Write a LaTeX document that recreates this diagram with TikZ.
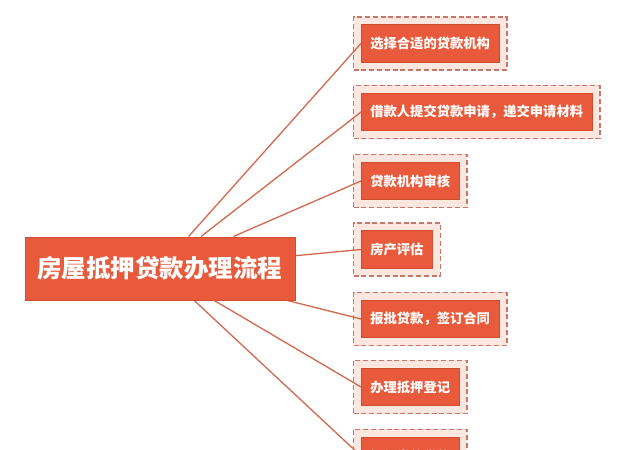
\documentclass[tikz,border=0pt]{standalone}
\usepackage{fontspec}
\newfontfamily\cjk{Noto Sans CJK SC}
\usetikzlibrary{fit,backgrounds}
\definecolor{boxred}{HTML}{E85A3B}
\definecolor{boxedge}{HTML}{D04E30}
\definecolor{halo}{HTML}{FCE6E0}
\definecolor{haloedge}{HTML}{C8766A}
\definecolor{linkc}{HTML}{D2684E}
\tikzset{
  mainbox/.style={fill=boxred, draw=boxedge, line width=1pt, text=white,
    font=\cjk\bfseries\fontsize{24.5}{28}\selectfont,
    minimum width=270pt, minimum height=63pt, inner sep=0pt},
  stepbox/.style={fill=boxred, draw=boxedge, line width=0.6pt, text=white,
    font=\cjk\bfseries\fontsize{13.3}{16}\selectfont,
    minimum height=37.5pt, inner xsep=9pt, inner ysep=0pt, anchor=west},
  halobox/.style={fill=halo, draw=haloedge, line width=1.5pt,
    dash pattern=on 5pt off 2.8pt, inner sep=7.5pt},
  link/.style={draw=linkc, line width=1.3pt}
}
\begin{document}
\begin{tikzpicture}[x=1pt,y=-1pt]
\useasboundingbox (0,0) rectangle (619,450);
\clip (0,0) rectangle (619,450);
\node[mainbox] (main) at (160,268.5) {房屋抵押贷款办理流程};
\node[stepbox] (c1) at (361,43.5) {选择合适的贷款机构};
\node[stepbox] (c2) at (361,112) {借款人提交贷款申请，递交申请材料};
\node[stepbox] (c3) at (361,181) {贷款机构审核};
\node[stepbox] (c4) at (361,249.5) {房产评估};
\node[stepbox] (c5) at (361,319) {报批贷款，签订合同};
\node[stepbox] (c6) at (361,387) {办理抵押登记};
\node[stepbox] (c7) at (361,456) {银行发放贷款};
\begin{scope}[on background layer]
\fill[white] (0,0) rectangle (619,450);
\foreach \i in {1,...,7}{
  \node[halobox, fit=(c\i)] (h\i) {};
}
\end{scope}
\foreach \i in {1,...,7}{
  \draw[link] (main) -- (c\i.west);
}
\node[mainbox] at (main) {房屋抵押贷款办理流程};
\end{tikzpicture}
\end{document}
